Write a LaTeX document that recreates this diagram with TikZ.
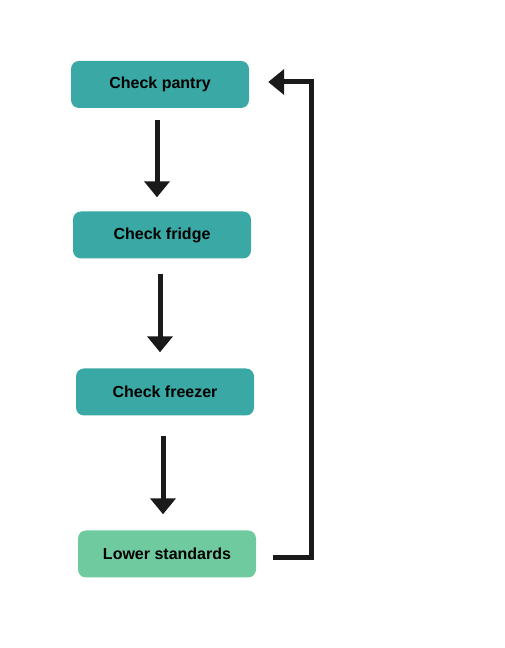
\documentclass[tikz,border=0pt]{standalone}
\usepackage{fontspec}
\setmainfont{Liberation Sans}
\usetikzlibrary{arrows.meta}
\definecolor{boxteal}{HTML}{3AA9A5}
\definecolor{boxgreen}{HTML}{6FCB9F}
\definecolor{inkdark}{HTML}{1A1A1A}
\tikzset{
    stepbox/.style = {fill = boxteal, rounded corners = 8pt, minimum width = 178pt, minimum height = 47pt, inner sep = 0pt, font = \fontsize{16}{19}\selectfont\bfseries, text = black},
    flow/.style = {draw = inkdark, line width = 5pt, -{Triangle[width = 25pt, length = 16pt]}}
}
\begin{document}
\begin{tikzpicture}[x = 1pt, y = 1pt]
    \useasboundingbox [fill = white] (0, 0) rectangle (504, 648);
    \node [stepbox] (pantry) at (160, 563.5) {Check pantry};
    \node [stepbox] (fridge) at (162, 413) {Check fridge};
    \node [stepbox] (freezer) at (165, 256) {Check freezer};
    \node [stepbox, fill = boxgreen] (standards) at (167, 94) {Lower standards};
    \coordinate (turn) at (311, 566);
    \draw [flow, shorten <= 12pt, shorten >= 14pt] ([xshift = -3pt]pantry.south) -- ([xshift = -3pt]pantry.south |- fridge.north);
    \draw [flow, shorten <= 15pt, shorten >= 16pt] ([xshift = -2pt]fridge.south) -- ([xshift = -2pt]fridge.south |- freezer.north);
    \draw [flow, shorten <= 20pt, shorten >= 16pt] ([xshift = -2pt]freezer.south) -- ([xshift = -2pt]freezer.south |- standards.north);
    \draw [flow] ([xshift = 17pt, yshift = -4pt]standards.east) -| (turn) -- ([xshift = 19pt]pantry.east |- turn);
\end{tikzpicture}
\end{document}
